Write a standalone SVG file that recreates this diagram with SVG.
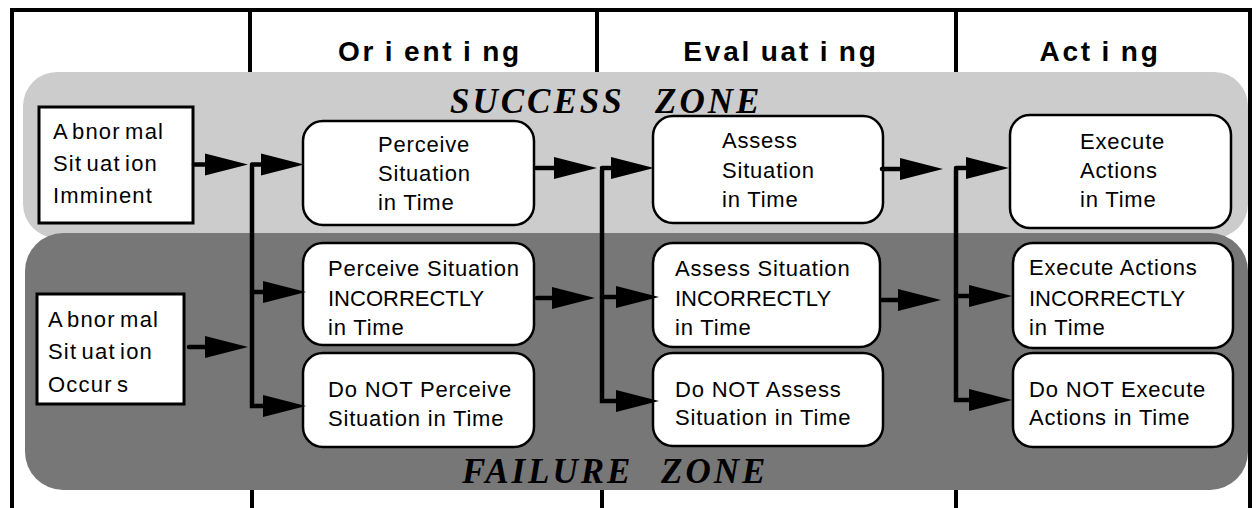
<svg xmlns="http://www.w3.org/2000/svg" width="1256" height="508" viewBox="0 0 1256 508">
  <style>
    .frame { stroke: #000; stroke-width: 4; fill: none; }
    .zone-ok { fill: #cccccc; }
    .zone-bad { fill: #777777; }
    .head { font-family: "Liberation Sans", Arial, sans-serif; font-weight: bold; font-size: 28px; letter-spacing: 2.8px; word-spacing: -2px; fill: #000; }
    .zlabel { font-family: "Liberation Serif", "Times New Roman", serif; font-weight: bold; font-style: italic; font-size: 35px; letter-spacing: 3px; fill: #000; }
    .box { fill: #fff; stroke: #000; stroke-width: 3; }
    .rbox { fill: #fff; stroke: #000; stroke-width: 2.5; }
    .txt { font-family: "Liberation Sans", Arial, sans-serif; font-size: 22px; letter-spacing: 0.8px; fill: #000; }
    .cap { letter-spacing: 0; }
    .src { font-family: "Liberation Sans", Arial, sans-serif; font-size: 22px; letter-spacing: 1.2px; word-spacing: -3px; fill: #000; }
    .conn { fill: none; stroke: #000; stroke-width: 4.5; stroke-linecap: round; stroke-linejoin: miter; marker-end: url(#ah); }
  </style>
  <defs>
    <marker id="ah" markerUnits="userSpaceOnUse" markerWidth="44" markerHeight="24" refX="0" refY="11" orient="auto" overflow="visible">
      <path d="M0,0 L43,11 L0,22 Z" fill="#000"/>
    </marker>
  </defs>

  <rect width="1256" height="508" fill="#fff"/>

  <!-- table frame and column dividers -->
  <g id="frame">
    <path class="frame" d="M12,508 V10 H1250 V508"/>
    <path class="frame" d="M250,10 V72 M597,10 V72 M956,10 V72"/>
    <path class="frame" d="M252,490 V508 M602,490 V508 M956,490 V508"/>
  </g>

  <!-- phase headers -->
  <g id="headers">
    <text class="head" x="430" y="61" text-anchor="middle">Or i ent i ng</text>
    <text class="head" x="781" y="61" text-anchor="middle">Eval uat i ng</text>
    <text class="head" x="1100" y="61" text-anchor="middle">Act i ng</text>
  </g>

  <!-- outcome zones -->
  <g id="success-zone">
    <rect class="zone-ok" x="23" y="72" width="1225" height="166" rx="34"/>
    <text class="zlabel" y="113"><tspan x="450">SUCCESS</tspan><tspan x="655">ZONE</tspan></text>
  </g>
  <g id="failure-zone">
    <rect class="zone-bad" x="25" y="233" width="1223" height="257" rx="38"/>
    <text class="zlabel" y="483"><tspan x="462">FAILURE</tspan><tspan x="661">ZONE</tspan></text>
  </g>

  <!-- initiating conditions -->
  <g id="imminent">
    <rect class="box" x="39" y="107" width="154" height="116"/>
    <text class="src" x="53" y="139">A bnor mal</text>
    <text class="src" x="53" y="171">Sit uat ion</text>
    <text class="src" x="53" y="203">Imminent</text>
  </g>
  <g id="occurs">
    <rect class="box" x="37" y="294" width="147" height="110"/>
    <text class="src" x="48" y="327">A bnor mal</text>
    <text class="src" x="48" y="359">Sit uat ion</text>
    <text class="src" x="48" y="392">Occur s</text>
  </g>

  <!-- orienting -->
  <g id="perceive-ok">
    <rect class="rbox" x="303" y="121" width="231" height="104" rx="20"/>
    <text class="txt" x="378" y="152">Perceive</text>
    <text class="txt" x="378" y="181">Situation</text>
    <text class="txt" x="378" y="210">in Time</text>
  </g>
  <g id="perceive-wrong">
    <rect class="rbox" x="303" y="243" width="231" height="102" rx="20"/>
    <text class="txt" x="328" y="276">Perceive Situation</text>
    <text class="txt cap" x="328" y="306">INCORRECTLY</text>
    <text class="txt" x="328" y="335">in Time</text>
  </g>
  <g id="perceive-none">
    <rect class="rbox" x="303" y="353" width="231" height="94" rx="20"/>
    <text class="txt" x="328" y="397">Do NOT Perceive</text>
    <text class="txt" x="328" y="426">Situation in Time</text>
  </g>

  <!-- evaluating -->
  <g id="assess-ok">
    <rect class="rbox" x="653" y="116" width="230" height="107" rx="20"/>
    <text class="txt" x="722" y="148">Assess</text>
    <text class="txt" x="722" y="178">Situation</text>
    <text class="txt" x="722" y="207">in Time</text>
  </g>
  <g id="assess-wrong">
    <rect class="rbox" x="653" y="243" width="227" height="104" rx="20"/>
    <text class="txt" x="675" y="276">Assess Situation</text>
    <text class="txt cap" x="675" y="306">INCORRECTLY</text>
    <text class="txt" x="675" y="335">in Time</text>
  </g>
  <g id="assess-none">
    <rect class="rbox" x="653" y="353" width="230" height="93" rx="20"/>
    <text class="txt" x="675" y="397">Do NOT Assess</text>
    <text class="txt" x="675" y="425">Situation in Time</text>
  </g>

  <!-- acting -->
  <g id="execute-ok">
    <rect class="rbox" x="1010" y="115" width="221" height="113" rx="20"/>
    <text class="txt" x="1080" y="149">Execute</text>
    <text class="txt" x="1080" y="178">Actions</text>
    <text class="txt" x="1080" y="207">in Time</text>
  </g>
  <g id="execute-wrong">
    <rect class="rbox" x="1013" y="243" width="220" height="105" rx="20"/>
    <text class="txt" x="1029" y="275">Execute Actions</text>
    <text class="txt cap" x="1029" y="306">INCORRECTLY</text>
    <text class="txt" x="1029" y="335">in Time</text>
  </g>
  <g id="execute-none">
    <rect class="rbox" x="1013" y="353" width="220" height="94" rx="20"/>
    <text class="txt" x="1029" y="397">Do NOT Execute</text>
    <text class="txt" x="1029" y="425">Actions in Time</text>
  </g>

  <!-- flow connectors: lines end at arrowhead base, marker draws the head -->
  <g id="connectors">
    <path class="conn" d="M194,164.5 H205"/>
    <path class="conn" d="M189,347 H205"/>
    <path class="conn" d="M252,164.5 H261"/>
    <path class="conn" d="M252,166 V406 H263"/>
    <path class="conn" d="M252,292 H263"/>

    <path class="conn" d="M536,168 H554"/>
    <path class="conn" d="M537,298 H552"/>
    <path class="conn" d="M602,168 H611"/>
    <path class="conn" d="M602,170 V401 H616"/>
    <path class="conn" d="M602,297 H616"/>

    <path class="conn" d="M882,169 H900"/>
    <path class="conn" d="M882,300 H898"/>
    <path class="conn" d="M956,168 H966"/>
    <path class="conn" d="M956,170 V400 H969"/>
    <path class="conn" d="M956,296 H969"/>
  </g>
</svg>
